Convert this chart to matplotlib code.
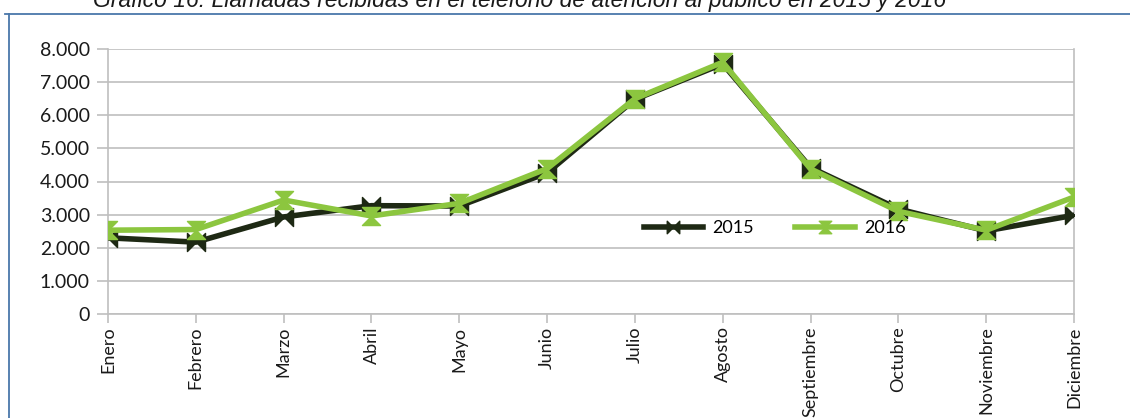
import matplotlib
matplotlib.use("Agg")
import matplotlib.pyplot as plt
from matplotlib.path import Path
from matplotlib.lines import Line2D

months = ["Enero", "Febrero", "Marzo", "Abril", "Mayo", "Junio", "Julio",
          "Agosto", "Septiembre", "Octubre", "Noviembre", "Diciembre"]
calls_2015 = [2300, 2170, 2930, 3270, 3260, 4260, 6480, 7550, 4420, 3170, 2510, 2980]
calls_2016 = [2530, 2550, 3440, 2960, 3340, 4390, 6500, 7600, 4380, 3100, 2530, 3530]
yticks = [0, 1000, 2000, 3000, 4000, 5000, 6000, 7000, 8000]
ytick_labels = ["0", "1.000", "2.000", "3.000", "4.000", "5.000", "6.000", "7.000", "8.000"]
title = "Gráfico 16: Llamadas recibidas en el teléfono de atención al público en 2015 y 2016"

plt.rcParams['font.family'] = ['Lato', 'DejaVu Sans']

# bowtie markers
m2015 = Path([(-1, -1), (-1, 1), (1, -1), (1, 1), (-1, -1)],
             [Path.MOVETO, Path.LINETO, Path.LINETO, Path.LINETO, Path.CLOSEPOLY])
m2016 = Path([(-1, 1), (1, 1), (-1, -1), (1, -1), (-1, 1)],
             [Path.MOVETO, Path.LINETO, Path.LINETO, Path.LINETO, Path.CLOSEPOLY])

dark = "#1e2914"
green = "#8cc63f"

fig = plt.figure(figsize=(11.30, 4.18), dpi=100)
ax = fig.add_axes([108/1130, 1-314/418, (1074-108)/1130, (314-49)/418])

x = list(range(len(months)))
ax.plot(x, calls_2015, color=dark, lw=4.0, marker=m2015, markersize=13,
        markerfacecolor=dark, markeredgecolor=dark, zorder=3, label="2015",
        solid_joinstyle='miter')
ax.plot(x, calls_2016, color=green, lw=4.0, marker=m2016, markersize=13,
        markerfacecolor=green, markeredgecolor=green, zorder=4, label="2016",
        solid_joinstyle='miter')

ax.set_xlim(0, len(months) - 1)
ax.set_ylim(0, 8000)
ax.set_yticks(yticks)
ax.set_yticklabels(ytick_labels, fontsize=14, color="#1a1a1a")
ax.set_xticks(x)
ax.set_xticklabels(months, rotation=90, fontsize=13, color="#1a1a1a", va="top")
ax.yaxis.grid(True, color="#bfbfbf", lw=1.2)
ax.set_axisbelow(True)
for s in ["top"]:
    ax.spines[s].set_visible(False)
for s in ["left", "right", "bottom"]:
    ax.spines[s].set_color("#bfbfbf")
    ax.spines[s].set_linewidth(1.2)
ax.tick_params(axis="y", length=8, color="#bfbfbf", width=1.2, pad=5)
ax.tick_params(axis="x", length=6.5, color="#bfbfbf", width=1.2, pad=2.5)

h1 = Line2D([], [], color=dark, lw=4.0, marker=m2015, markersize=9, markerfacecolor=dark, markeredgecolor=dark)
h2 = Line2D([], [], color=green, lw=4.0, marker=m2016, markersize=9, markerfacecolor=green, markeredgecolor=green)
leg = ax.legend([h1, h2], ["2015", "2016"], loc="center", bbox_to_anchor=(0.69, 0.325),
                ncol=2, frameon=False, fontsize=13, handlelength=3.3,
                handletextpad=0.5, columnspacing=2.3)

# outer frame (blue) and clipped title
fig.add_artist(Line2D([5/1130, 1.0], [1-13.5/418, 1-13.5/418], color="#4a77aa", lw=1.3))
fig.add_artist(Line2D([8.5/1130, 8.5/1130], [0, 1-13.5/418], color="#4a77aa", lw=1.3))
fig.text(93/1130, 1-1/418, title, fontsize=16.5, style="italic", ha="left", va="center",
         family=["Liberation Sans Narrow", "Liberation Sans", "DejaVu Sans"], color="#1a1a1a")

fig.savefig("out.png", dpi=100)
